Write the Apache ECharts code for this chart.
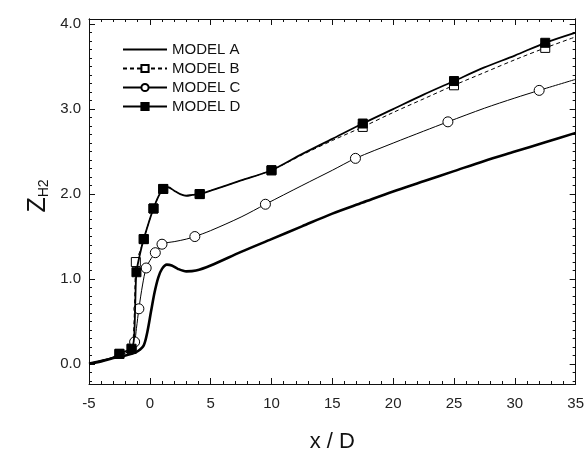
<!DOCTYPE html>
<html>
<head>
<meta charset="utf-8">
<script src="https://cdn.jsdelivr.net/npm/echarts@6/dist/echarts.min.js"></script>
<style>
html, body { margin: 0; padding: 0; background: #fff; }
#chart { width: 587px; height: 459px; }
</style>
</head>
<body>
<div id="chart"></div>
<script>
// curves, [x/D, Z_H2]
var modelA = [[-5,0.0],[-4,0.03],[-3,0.07],[-2,0.1],[-1.5,0.12],[-1,0.15],[-0.5,0.22],[-0.2,0.38],
  [0.1,0.62],[0.4,0.85],[0.7,1.02],[1.0,1.12],[1.4,1.17],[1.8,1.16],[2.3,1.12],[3.0,1.09],[3.8,1.1],
  [5,1.16],[7.5,1.32],[10,1.47],[12.5,1.62],[15,1.77],[17.5,1.9],[20,2.03],[22.5,2.15],[25,2.27],
  [27.5,2.39],[30,2.5],[32.5,2.61],[35,2.72]];
var modelB = [[-5,0.01],[-4,0.04],[-3,0.08],[-2.5,0.12],[-2,0.15],[-1.5,0.18],[-1.3,0.5],[-1.2,1.05],
  [-1.15,1.2],[-0.8,1.33],[-0.5,1.47],[-0.1,1.66],[0.3,1.83],[0.7,1.97],[1.1,2.06],[1.5,2.08],[2,2.04],
  [2.5,2.0],[3,1.98],[3.5,1.99],[4.1,2.0],[5,2.04],[7.5,2.16],[10,2.28],[12.5,2.46],[15,2.63],
  [17.5,2.79],[20,2.96],[22.5,3.12],[25,3.28],[27.5,3.43],[30,3.58],[32.5,3.72],[35,3.85]];
var modelC = [[-5,0.01],[-4,0.03],[-3,0.07],[-2.5,0.1],[-2,0.13],[-1.5,0.17],[-1.25,0.26],[-1.1,0.42],
  [-0.9,0.65],[-0.6,0.93],[-0.3,1.13],[0.1,1.24],[0.45,1.31],[1.0,1.41],[1.5,1.43],[2.0,1.44],[3.0,1.47],
  [3.7,1.5],[5,1.57],[7.5,1.73],[9.5,1.88],[12.5,2.1],[15,2.28],[16.9,2.42],[20,2.6],[22.5,2.74],
  [24.5,2.85],[27.5,3.01],[30,3.13],[32,3.22],[35,3.35]];
var modelD = [[-5,0.01],[-4,0.04],[-3,0.08],[-2.5,0.12],[-2,0.15],[-1.5,0.18],[-1.3,0.3],[-1.2,0.7],
  [-1.1,1.08],[-0.8,1.3],[-0.5,1.47],[-0.1,1.66],[0.3,1.83],[0.7,1.97],[1.1,2.06],[1.5,2.08],[2,2.04],
  [2.5,2.0],[3,1.98],[3.5,1.99],[4.1,2.0],[5,2.04],[7.5,2.16],[10,2.28],[12.5,2.47],[15,2.65],
  [17.5,2.83],[20,3.0],[22.5,3.17],[25,3.33],[27.5,3.49],[30,3.63],[32.5,3.78],[35,3.9]];

// x positions that carry a marker
var marksB = [-2.5,-1.5,-1.15,-0.5,0.3,1.1,4.1,10,17.5,25,32.5];
var marksC = [-1.25,-0.9,-0.3,0.45,1.0,3.7,9.5,16.9,24.5,32];
var marksD = [-2.5,-1.5,-1.1,-0.5,0.3,1.1,4.1,10,17.5,25,32.5];

var names = ['MODEL A','MODEL B','MODEL C','MODEL D'];
var yTicks = [0, 1, 2, 3, 4];

var yMinor = [];
for (var v = -2; v <= 40; v++) { if (v % 10 != 0) yMinor.push(v / 10); }

function build(curve, marks) {
  return curve.map(function (p) {
    if (marks && marks.indexOf(p[0]) >= 0) return { value: p };
    return { value: p, symbol: 'none' };
  });
}

var font = 'Liberation Sans, Arial, sans-serif';
var ink = '#111';

var xBase = {
  type: 'value', min: -5, max: 35, interval: 5,
  axisLine: { show: true, onZero: false, lineStyle: { color: ink, width: 1 } },
  axisTick: { inside: true, length: 6, lineStyle: { color: ink } },
  minorTick: { show: true, splitNumber: 5, length: 3, lineStyle: { color: ink } },
  splitLine: { show: false }
};
var yBase = {
  type: 'value', min: -0.235, max: 4.06,
  axisLine: { show: true, onZero: false, lineStyle: { color: ink, width: 1 } },
  splitLine: { show: false }
};

var myChart = echarts.init(document.getElementById('chart'));
var option = {
  animation: false,
  backgroundColor: '#fff',
  grid: { left: 89, right: 7, top: 19, bottom: 75 },
  xAxis: [
    echarts.util.merge({
      position: 'bottom',
      name: 'x / D', nameLocation: 'middle', nameGap: 47,
      nameTextStyle: { fontFamily: font, fontSize: 22, color: ink },
      axisLabel: { margin: 12, fontFamily: font, fontSize: 15, color: '#222' }
    }, xBase, true),
    echarts.util.merge({ position: 'top', axisLabel: { show: false } }, xBase, true)
  ],
  yAxis: [
    echarts.util.merge({
      position: 'left',
      axisTick: { inside: true, length: 6, customValues: yTicks, lineStyle: { color: ink } },
      axisLabel: { margin: 8, fontFamily: font, fontSize: 15, color: '#222', customValues: yTicks,
        formatter: function (v) { return v.toFixed(1); } }
    }, yBase, true),
    echarts.util.merge({
      position: 'left',
      axisLine: { show: false },
      axisTick: { inside: true, length: 3, customValues: yMinor, lineStyle: { color: ink } },
      axisLabel: { show: false }
    }, yBase, true),
    echarts.util.merge({
      position: 'right',
      axisTick: { inside: true, length: 6, customValues: yTicks, lineStyle: { color: ink } },
      axisLabel: { show: false }
    }, yBase, true),
    echarts.util.merge({
      position: 'right',
      axisLine: { show: false },
      axisTick: { inside: true, length: 3, customValues: yMinor, lineStyle: { color: ink } },
      axisLabel: { show: false }
    }, yBase, true)
  ],
  legend: {
    orient: 'vertical', left: 117, top: 37,
    itemWidth: 44, itemHeight: 9, itemGap: 4,
    textStyle: { fontFamily: font, fontSize: 15, lineHeight: 15, color: ink },
    data: [
      { name: names[0], itemStyle: { color: 'transparent', borderWidth: 0 } },
      names[1], names[2], names[3]
    ]
  },
  graphic: [{
    type: 'text', x: 36, y: 196, rotation: Math.PI / 2,
    style: {
      text: '{z|Z}{s|H2}', align: 'center', verticalAlign: 'middle', fill: ink,
      rich: {
        z: { fontFamily: font, fontSize: 25, fill: ink, verticalAlign: 'bottom', lineHeight: 30 },
        s: { fontFamily: font, fontSize: 14, fill: ink, verticalAlign: 'bottom', lineHeight: 22 }
      }
    }
  }],
  series: [
    {
      name: names[0], type: 'line', smooth: 0.3, symbol: 'none',
      lineStyle: { color: '#000', width: 2.6 }, itemStyle: { color: '#000' },
      data: build(modelA, null), z: 2
    },
    {
      name: names[1], type: 'line', smooth: 0.3, symbol: 'rect', symbolSize: 9, showAllSymbol: true,
      lineStyle: { color: '#000', width: 1, type: [4, 3] },
      itemStyle: { color: '#fff', borderColor: '#000', borderWidth: 1 },
      data: build(modelB, marksB), z: 3
    },
    {
      name: names[2], type: 'line', smooth: 0.3, symbol: 'circle', symbolSize: 10, showAllSymbol: true,
      lineStyle: { color: '#000', width: 1 },
      itemStyle: { color: '#fff', borderColor: '#000', borderWidth: 1 },
      data: build(modelC, marksC), z: 4
    },
    {
      name: names[3], type: 'line', smooth: 0.3, symbol: 'rect', symbolSize: 9, showAllSymbol: true,
      lineStyle: { color: '#000', width: 1.8 },
      itemStyle: { color: '#000', borderColor: '#000', borderWidth: 1 },
      data: build(modelD, marksD), z: 5
    }
  ]
};
myChart.setOption(option);
</script>
</body>
</html>
